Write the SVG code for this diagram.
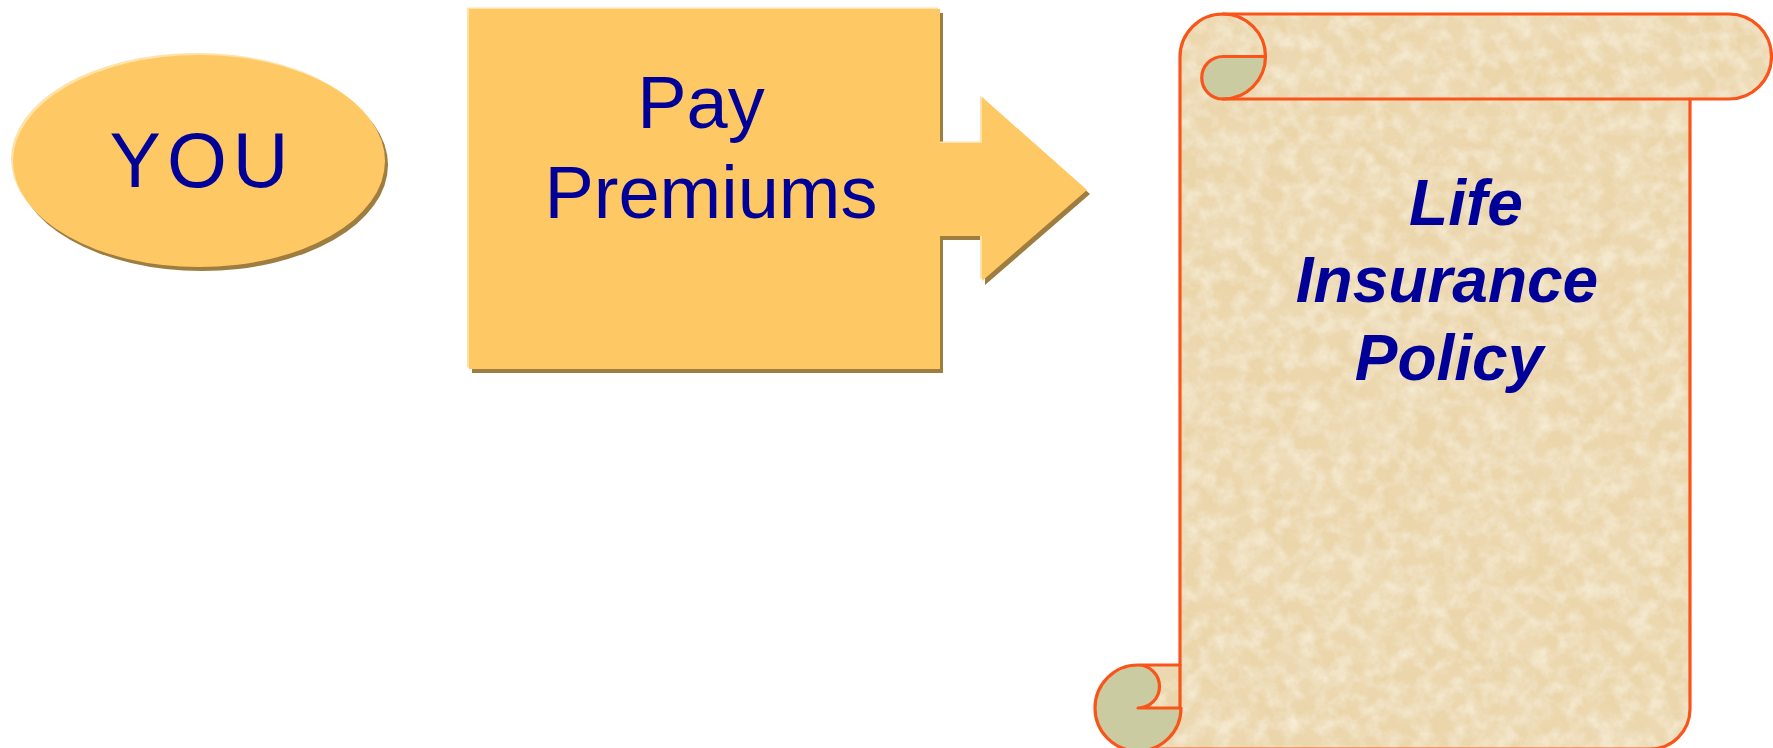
<svg xmlns="http://www.w3.org/2000/svg" width="1773" height="748" viewBox="0 0 1773 748">
  <style>
    .lbl { font-family: "Liberation Sans", Arial, sans-serif; fill: #000099; text-anchor: middle; }
    .big { font-size: 74px; }
    .you { font-size: 77px; }
    .pol { font-size: 64px; font-weight: bold; font-style: italic; }
    .shadow { fill: #9e7d40; }
    .hilite { fill: #ffe2a8; }
    .gold { fill: #fec965; }
    .edge { fill: none; stroke: #f9541a; stroke-width: 3.2; stroke-linejoin: round; stroke-linecap: round; }
    .curl { fill: #cbcba1; }
  </style>
  <defs>
    <filter id="parch" x="0" y="0" width="100%" height="100%" filterUnits="objectBoundingBox">
      <feTurbulence type="fractalNoise" baseFrequency="0.06" numOctaves="4" seed="7" result="n"/>
      <feColorMatrix in="n" type="matrix" values="0 0 0 0 0.97  0 0 0 0 0.92  0 0 0 0 0.79  1.2 0 0 0 -0.45" result="light"/>
      <feComposite in="light" in2="SourceGraphic" operator="in" result="spots"/>
      <feTurbulence type="fractalNoise" baseFrequency="0.02" numOctaves="3" seed="21" result="n2"/>
      <feColorMatrix in="n2" type="matrix" values="0 0 0 0 0.87  0 0 0 0 0.76  0 0 0 0 0.55  0.9 0 0 0 -0.35" result="dark"/>
      <feComposite in="dark" in2="SourceGraphic" operator="in" result="dspots"/>
      <feMerge>
        <feMergeNode in="SourceGraphic"/>
        <feMergeNode in="dspots"/>
        <feMergeNode in="spots"/>
      </feMerge>
    </filter>
    <polygon id="payShape" points="469,9 940,9 940,143 982,143 982,97 1087,190 982,281 982,236 940,236 940,369 469,369"/>
  </defs>

  <g id="connectors"></g>

  <g id="you">
    <ellipse class="shadow" cx="202" cy="165" rx="186" ry="106"/>
    <ellipse class="hilite" cx="197" cy="159" rx="186" ry="106"/>
    <ellipse class="gold" cx="199" cy="161" rx="186" ry="106"/>
    <text class="lbl you" x="202" y="187" letter-spacing="6">YOU</text>
  </g>

  <g id="pay-premiums">
    <use href="#payShape" class="shadow" transform="translate(3,4)"/>
    <use href="#payShape" class="hilite" transform="translate(-2,-1.5)"/>
    <use href="#payShape" class="gold"/>
    <text class="lbl big" x="701" y="128">Pay</text>
    <text class="lbl big" x="711" y="218">Premiums</text>
  </g>

  <g id="policy">
    <path d="M1180,57 A43,43 0 0 1 1223,14 L1729,14 A42.5,42.5 0 0 1 1729,99 L1690,99 L1690,709 A40,40 0 0 1 1650,749 L1138,749 L1138,665 L1180,665 Z" fill="#ebd6ab" filter="url(#parch)"/>
    <path class="curl" d="M1223,56.5 L1265.5,56.5 A42.5,42.5 0 0 1 1223,99 A21.25,21.25 0 0 1 1223,56.5 Z"/>
    <path class="curl" d="M1138,665 A21.5,21.5 0 0 1 1138,708 L1181,708 A43,43 0 1 1 1138,665 Z"/>
    <path class="edge" d="M1180,708 L1180,57 A43,43 0 0 1 1223,14 L1729,14 A42.5,42.5 0 0 1 1729,99 L1223,99"/>
    <path class="edge" d="M1690,99 L1690,709 A40,40 0 0 1 1650,749 L1160,749"/>
    <path class="edge" d="M1223,14 A42.5,42.5 0 0 1 1223,99 M1223,56.5 L1265.5,56.5 M1223,56.5 A21.25,21.25 0 0 0 1223,99"/>
    <path class="edge" d="M1138,665 L1180,665 M1138,708 L1181,708 M1138,665 A21.5,21.5 0 0 1 1138,708 M1181,708 A43,43 0 1 1 1138,665"/>
    <text class="lbl pol" x="1466" y="225">Life</text>
    <text class="lbl pol" x="1447" y="302">Insurance</text>
    <text class="lbl pol" x="1449" y="380">Policy</text>
  </g>
</svg>
